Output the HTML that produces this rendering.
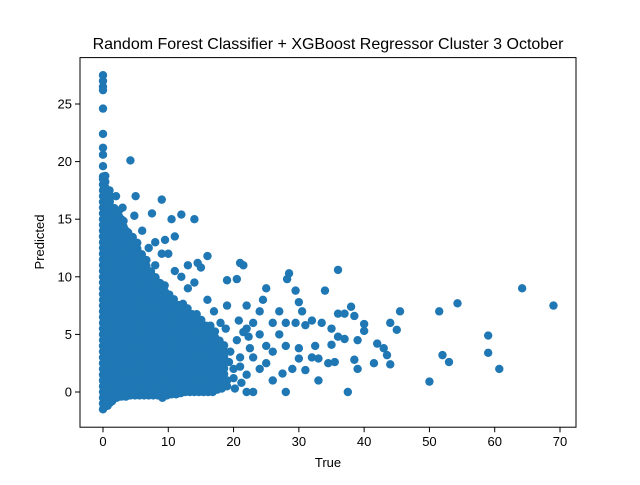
<!DOCTYPE html>
<html><head><meta charset="utf-8"><style>
body{margin:0;background:#fff;}
svg text{font-family:"Liberation Sans","DejaVu Sans",sans-serif;fill:#000;}
</style></head><body>
<svg id="chart" width="640" height="480">
<rect width="640" height="480" fill="#fff"/>
<text x="328" y="49" font-size="16" text-anchor="middle">Random Forest Classifier + XGBoost Regressor Cluster 3 October</text>
<g id="marks"></g>
<rect x="80" y="57.6" width="496" height="369.6" fill="none" stroke="#000" stroke-width="1"/>
<g id="xticks"></g>
<g id="yticks"></g>
<text x="328" y="467" font-size="13" text-anchor="middle">True</text>
<text x="44" y="242" font-size="13" text-anchor="middle" transform="rotate(-90 44 242)">Predicted</text>
</svg>
<script>
const xTicks=[0,10,20,30,40,50,60,70];
const yTicks=[0,5,10,15,20,25];
// dense core: column true values with lower/upper predicted envelope
const blobX=[0,0.7,1.4,2.1,2.8,3.5,4.2,4.9,5.6,6.3,7,7.7,8.4,9.1,9.8,10.5,11.2,11.9,12.6,13.3,14,14.7,15.4,16.1,16.8,17.5,18.2];
const blobLo=[-1.5,-1.2,-0.8,-0.5,-0.4,-0.4,-0.3,-0.3,-0.3,-0.3,-0.3,-0.3,-0.3,-0.5,-0.3,-0.2,-0.2,-0.1,0,0,0,0,0,0,0,0.2,0.3];
const blobHi=[18.5,17,16,15.5,15,14,13.5,13,12,11.5,10.5,10,9.5,9,8.5,8,7.5,7.5,7,6.8,6.5,6,5.5,5.5,5,4.5,4];
// sparse points
const trueVals=[0,0,0,0,0,0,0,0,0,0,4.2,5,9,4.8,7.5,12,14,10.5,11,8,9.5,16,14.5,15,21,21.5,20.5,19,25,28.5,28.2,24.5,29.5,30,34,36,38,37,38.5,36,33.5,32,30.5,29.5,28,31,35,40,39,40,36,37,42,44,45,45.5,43,43.5,44,41.5,38.5,39,34.5,35.5,32,33,31,30,30,32.5,35,33,37.5,28,27.5,26,24,22,23,50,52,53,51.5,54.3,59,59,60.7,64.2,69,25,26,27,27,23,22,24,21,20,19,23,25,26,28,29,24,22,18,17,19,16,13,12,11,14,13,10,9,8,6,7,3,2,1,19,19.5,20,20.5,21,21.5,22,22.5,19.3,20.2,21.2,22.3,18.8,20.8];
const predVals=[27.5,27,26.5,26.2,24.6,22.4,21.2,20.6,19.6,18.7,20.1,17,16.7,15.3,15.5,15.4,15,15,13.5,13,13.2,11.8,11.2,10.8,11.2,11,9.8,9.7,9,10.3,9.8,8,8.8,7.8,8.8,10.6,7.4,6.8,6.6,6.8,6,6.2,7,6,6,5.8,5.5,5.9,4.5,5.3,4.8,4.6,4.2,6,5.4,7,3.8,3.2,2.4,2.5,2.8,2,2.5,2.6,3,2.9,1.9,2.9,3.8,4,4.1,1,0,0,1.6,1,2,0,0,0.9,3.2,2.6,7,7.7,4.9,3.4,2,9,7.5,4,6,5,7,6,5.5,5,3,2,1,3,2.5,3.5,4,2,7,7.5,6,7,7.5,8,9,10,10.5,9.5,11,12,12,11,14,12.5,16,17,17.5,0.5,3.5,1.2,4.5,2.2,5.2,1.5,3.8,2.6,0.3,0.8,4.8,5.5,6.2];

const X0=80,X1=576,Y0=57.6,Y1=427.2;
const sx=v=>103+v*(457/70);
const sy=v=>392-v*(288/25);
const NS='http://www.w3.org/2000/svg';
const marks=document.getElementById('marks');
function dot(x,y,name){
  const c=document.createElementNS(NS,'circle');
  c.setAttribute('cx',sx(x));c.setAttribute('cy',sy(y));c.setAttribute('r',4.2);c.setAttribute('fill','#1f77b4');
  
  
  marks.appendChild(c);
}
blobX.forEach((x,i)=>{
  for(let y=blobLo[i];y<=blobHi[i]+0.01;y+=0.5){dot(x,y,'dense-point');dot(x+0.35,y+0.25,'dense-point');}
  dot(x,blobHi[i],'dense-point');
});
trueVals.forEach((x,i)=>dot(x,predVals[i],'scatter-point'));

const xg=document.getElementById('xticks');
xTicks.forEach(t=>{
  const l=document.createElementNS(NS,'line');
  l.setAttribute('x1',sx(t));l.setAttribute('x2',sx(t));l.setAttribute('y1',Y1);l.setAttribute('y2',Y1+5);l.setAttribute('stroke','#000');
  
  
  xg.appendChild(l);
  const tx=document.createElementNS(NS,'text');
  tx.setAttribute('x',sx(t));tx.setAttribute('y',Y1+19);tx.setAttribute('font-size','13');tx.setAttribute('text-anchor','middle');
  tx.textContent=t;
  
  
  xg.appendChild(tx);
});
const yg=document.getElementById('yticks');
yTicks.forEach(t=>{
  const l=document.createElementNS(NS,'line');
  l.setAttribute('x1',X0-5);l.setAttribute('x2',X0);l.setAttribute('y1',sy(t));l.setAttribute('y2',sy(t));l.setAttribute('stroke','#000');
  
  
  yg.appendChild(l);
  const tx=document.createElementNS(NS,'text');
  tx.setAttribute('x',X0-8);tx.setAttribute('y',sy(t)+4.5);tx.setAttribute('font-size','13');tx.setAttribute('text-anchor','end');
  tx.textContent=t;
  
  
  yg.appendChild(tx);
});
</script>
</body></html>
